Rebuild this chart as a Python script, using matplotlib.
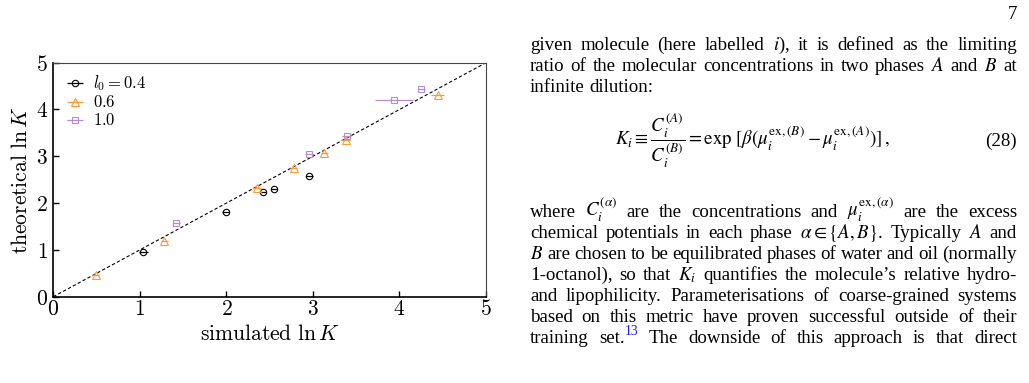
import matplotlib
matplotlib.use("Agg")
import matplotlib.pyplot as plt
from matplotlib.transforms import IdentityTransform
import numpy as np

plt.rcParams['mathtext.fontset'] = 'cm'

# ---------------- data ----------------
sim_04 = [1.04, 1.99, 2.42, 2.55, 2.96]
theo_04 = [0.95, 1.80, 2.24, 2.30, 2.57]
err_04 = [0.05, 0.04, 0.04, 0.04, 0.04]

sim_06 = [0.49, 1.28, 2.35, 2.78, 3.13, 3.38, 4.44]
theo_06 = [0.47, 1.20, 2.32, 2.74, 3.08, 3.35, 4.30]
err_06 = [0.04, 0.04, 0.05, 0.04, 0.04, 0.05, 0.08]

sim_10 = [1.42, 2.96, 3.39, 3.94, 4.25]
theo_10 = [1.57, 3.05, 3.43, 4.20, 4.44]
err_10 = [0.04, 0.05, 0.05, 0.22, 0.04]

labels = [r'$l_0 = 0.4$', r'$0.6$', r'$1.0$']
ticks = [0, 1, 2, 3, 4, 5]

C_BLACK = 'black'
C_ORANGE = '#fb9a3c'
C_PURPLE = '#b28cd6'

W, H = 1029, 383
fig = plt.figure(figsize=(W / 100, H / 100), dpi=100)
ax = fig.add_axes([53.3 / W, 1 - 296.7 / H, (486 - 53.3) / W, (296.7 - 62.7) / H])

ax.plot([0, 5], [0, 5], ls=(0, (3, 2)), color='black', lw=0.8, zorder=1)

series = [(sim_04, theo_04, err_04, 'o', C_BLACK, 4.6),
          (sim_06, theo_06, err_06, '^', C_ORANGE, 5.2),
          (sim_10, theo_10, err_10, 's', C_PURPLE, 4.6)]
for (x, y, e, m, c, ms), lab in zip(series, labels):
    ax.errorbar(x, y, xerr=e, fmt=m, mfc='none', mec=c, ecolor=c, ms=ms,
                mew=0.8, elinewidth=0.9, capsize=0, label=lab, zorder=3)

ax.set_xlim(0, 5)
ax.set_ylim(0, 5)
ax.set_xticks(ticks)
ax.set_yticks(ticks)
ax.set_xticklabels([f'${t}$' for t in ticks])
ax.set_yticklabels([f'${t}$' for t in ticks])
ax.tick_params(direction='in', length=4, width=1, labelsize=15.5, top=False, right=False)
ax.tick_params(axis='x', pad=2)
ax.tick_params(axis='y', pad=4)
for s in ['left', 'bottom']:
    ax.spines[s].set_linewidth(1.2)
for s in ['top', 'right']:
    ax.spines[s].set_linewidth(0.8)
    ax.spines[s].set_color('#444444')

ax.set_xlabel(r'$\mathrm{simulated}\ \ln K$', fontsize=15.5, labelpad=3)
ax.set_ylabel(r'$\mathrm{theoretical}\ \ln K$', fontsize=15.5, labelpad=3)

ax.legend(loc='upper left', frameon=False, fontsize=12, handlelength=1.3,
          handletextpad=0.45, labelspacing=0.0, borderaxespad=0.25, borderpad=0.4)

# ---------------- page text ----------------
X0, X1 = 530, 1017
LINE_Y = [45, 66, 87, 212, 233, 254, 275, 296, 317, 338]
LINES = [
    ("given molecule (here labelled $i$), it is defined as the limiting", True),
    ("ratio of the molecular concentrations in two phases $A$ and $B$ at", True),
    ("infinite dilution:", False),
    (r"where $C_i^{(\alpha)}$ are the concentrations and $\mu_i^{\mathrm{ex},(\alpha)}$ are the excess", True),
    (r"chemical potentials in each phase $\alpha\in\{A,B\}$. Typically $A$ and", True),
    ("$B$ are chosen to be equilibrated phases of water and oil (normally", True),
    ("1-octanol), so that $K_i$ quantifies the molecule\u2019s relative hydro-", True),
    ("and lipophilicity. Parameterisations of coarse-grained systems", True),
    ("based on this metric have proven successful outside of their", True),
    ("training set.^13 The downside of this approach is that direct", True),
]

fig.canvas.draw()
renderer = fig.canvas.get_renderer()
tr = IdentityTransform()


def txtprops(fs):
    return dict(fontfamily='Liberation Serif', math_fontfamily='stix', fontsize=fs)


def place_token(tok, x, y, fs):
    pieces = []
    if '^13' in tok:
        a = tok.replace('^13', '')
        pieces.append((a, {}, 0))
        pieces.append(('13', dict(color='#1a1aff', fontsize=fs * 0.72), 8))
    else:
        pieces.append((tok, {}, 0))
    objs = []
    cx = x
    for s, kw, dy in pieces:
        p = txtprops(fs)
        p.update(kw)
        t = fig.text(cx, y + dy, s, transform=tr, ha='left', va='baseline', **p)
        w = t.get_window_extent(renderer).width
        objs.append((t, dy))
        cx += w
    return objs, cx - x


# measure natural width at a trial size to fit font size
trial = 12.0
nat = []
for line, just in LINES:
    if not just:
        continue
    toks = line.split(' ')
    ws = []
    for tok in toks:
        objs, w = place_token(tok, 0, -100, trial)
        ws.append(w)
        for t, _ in objs:
            t.remove()
    space = 0.25 * trial * 100 / 72
    nat.append(sum(ws) + space * (len(toks) - 1))
FS = trial * (X1 - X0) / max(nat) * 1.015

for (line, just), yy in zip(LINES, LINE_Y):
    y = H - yy - 5
    toks = line.split(' ')
    placed = []
    widths = []
    for tok in toks:
        objs, w = place_token(tok, 0, y, FS)
        placed.append(objs)
        widths.append(w)
    if just and len(toks) > 1:
        gap = (X1 - X0 - sum(widths)) / (len(toks) - 1)
    else:
        gap = 0.25 * FS * 100 / 72
    x = X0
    for objs, w in zip(placed, widths):
        cx = x
        for t, dy in objs:
            t.set_x(cx)
            cx += t.get_window_extent(renderer).width
        x += w + gap

TXT = txtprops(FS)
fig.text(X1, H - 14 - 5, '7', transform=tr, ha='right', va='baseline', **TXT)
fig.text(752, H - 141, r'$K_i \equiv \dfrac{C_i^{(A)}}{C_i^{(B)}} = \exp\,[\beta(\mu_i^{\mathrm{ex},(B)} - \mu_i^{\mathrm{ex},(A)})]\,,$',
         transform=tr, ha='center', va='center', **TXT)
fig.text(X1, H - 141, '(28)', transform=tr, ha='right', va='center', **TXT)

fig.savefig('out.png', dpi=100)
